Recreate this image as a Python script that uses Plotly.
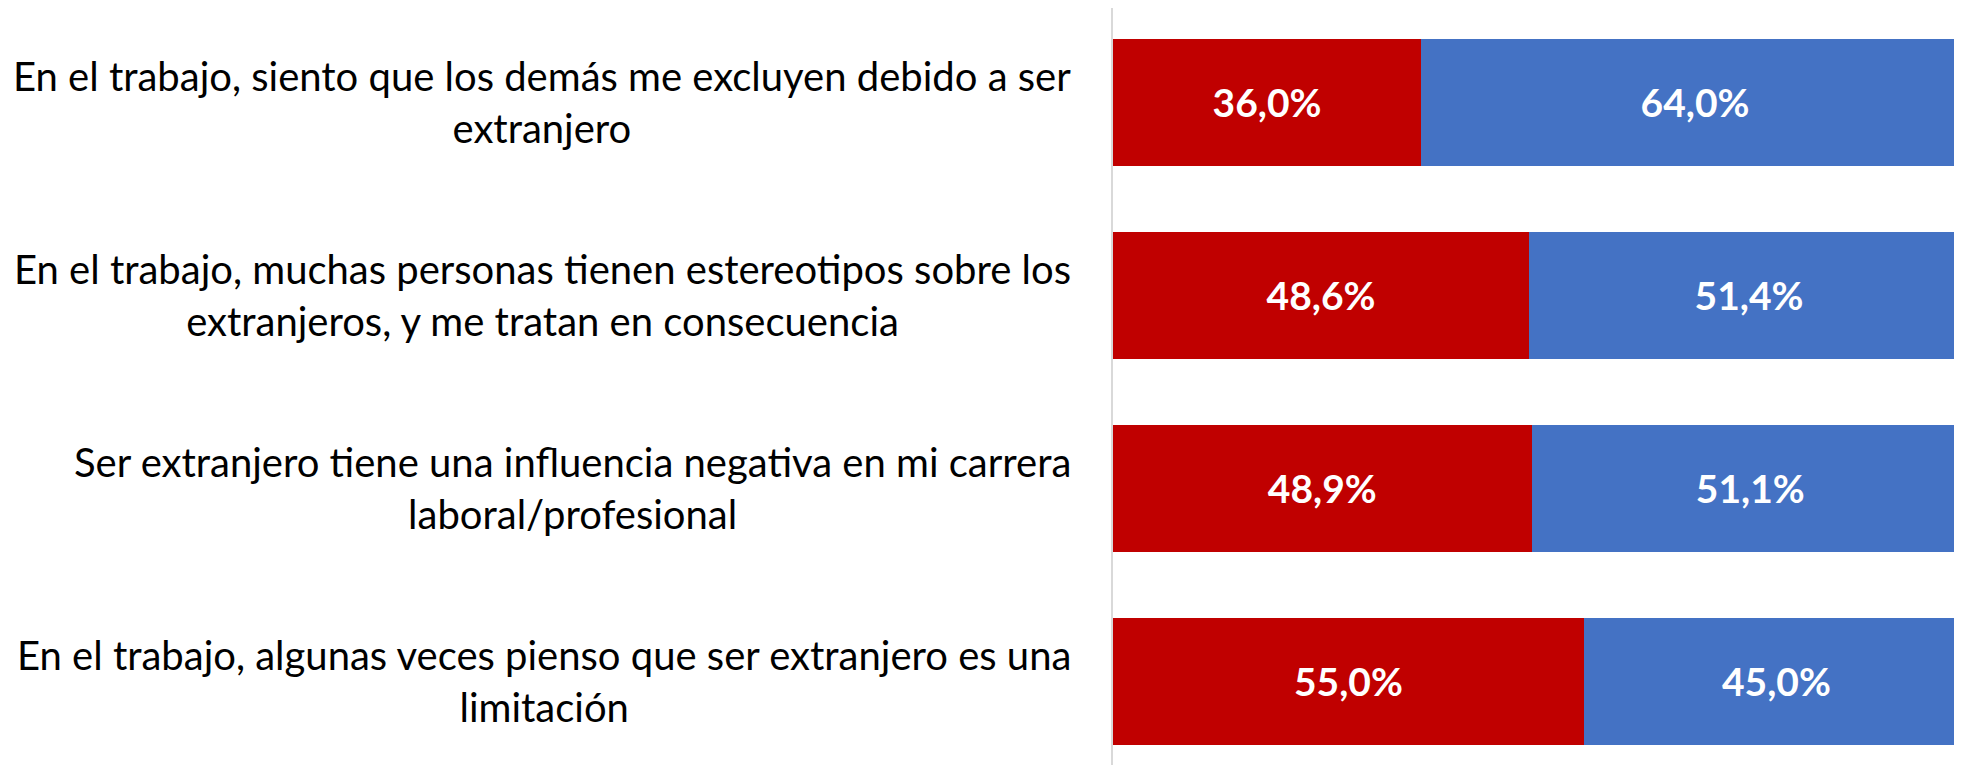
import plotly.graph_objects as go

categories = [
    "En el trabajo, siento que los demás me excluyen debido a ser<br>extranjero",
    "En el trabajo, muchas personas tienen estereotipos sobre los<br>extranjeros, y me tratan en consecuencia",
    "Ser extranjero tiene una influencia negativa en mi carrera<br>laboral/profesional",
    "En el trabajo, algunas veces pienso que ser extranjero es una<br>limitación",
]
series_names = ["De acuerdo", "En desacuerdo"]
agree = [36.0, 48.6, 48.9, 55.0]
disagree = [64.0, 51.4, 51.1, 45.0]
colors = ["#C00000", "#4472C4"]

def fmt(v):
    return f"{v:.1f}%".replace(".", ",")

ypos = list(range(len(categories)))

fig = go.Figure()
for name, vals, col in zip(series_names, [agree, disagree], colors):
    fig.add_trace(go.Bar(
        y=ypos, x=vals, orientation="h", name=name,
        marker=dict(color=col, line=dict(width=0)),
        text=[fmt(v) for v in vals],
        textposition="inside", insidetextanchor="middle",
        textfont=dict(family="Lato", size=39, color="white", weight="bold"),
        textangle=0,
        showlegend=False,
    ))

for i, c in enumerate(categories):
    fig.add_annotation(
        x=0, xref="paper", y=i, yref="y", text=c,
        xanchor="right", yanchor="middle", xshift=-40,
        align="center", showarrow=False,
        font=dict(family="Lato", size=40, color="#000000"),
    )

fig.update_layout(
    width=1946, height=757,
    margin=dict(l=1105, r=0, t=0, b=0),
    barmode="stack", bargap=0.342,
    plot_bgcolor="white", paper_bgcolor="white",
    xaxis=dict(visible=False, range=[0, 98.25], fixedrange=True),
    yaxis=dict(range=[3.435, -0.487], showticklabels=False, showgrid=False,
               zeroline=False, showline=True, linecolor="#D9D9D9", linewidth=2,
               ticks=""),
)

fig.write_html("out.html")
